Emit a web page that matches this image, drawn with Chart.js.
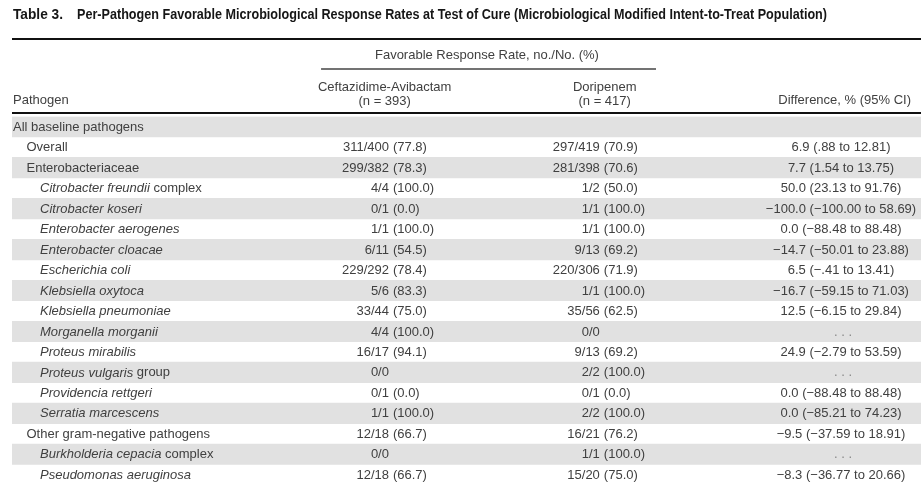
<!DOCTYPE html>
<html lang="en">
<head>
  <meta charset="UTF-8">
  <title>Table 3. Per-Pathogen Favorable Microbiological Response Rates</title>
  <script src="https://cdn.jsdelivr.net/npm/chart.js"></script>
  <style>
    body { margin: 0; background: #fff; }
    .chart-container { width: 924px; height: 485px; }
  </style>
</head>
<body>
  <div class="chart-container">
    <canvas id="tableChart" width="924" height="485"></canvas>
  </div>

  <script>
    // rows of the table
    const rowLabels = [
      'All baseline pathogens', 'Overall', 'Enterobacteriaceae',
      'Citrobacter freundii complex', 'Citrobacter koseri', 'Enterobacter aerogenes',
      'Enterobacter cloacae', 'Escherichia coli', 'Klebsiella oxytoca',
      'Klebsiella pneumoniae', 'Morganella morganii', 'Proteus mirabilis',
      'Proteus vulgaris group', 'Providencia rettgeri', 'Serratia marcescens',
      'Other gram-negative pathogens', 'Burkholderia cepacia complex', 'Pseudomonas aeruginosa'
    ];
    const rowLevel = [0, 1, 1, 2, 2, 2, 2, 2, 2, 2, 2, 2, 2, 2, 2, 1, 2, 2];
    // part of each label set in italics (species names)
    const italicPart = [
      '', '', '',
      'Citrobacter freundii', 'Citrobacter koseri', 'Enterobacter aerogenes',
      'Enterobacter cloacae', 'Escherichia coli', 'Klebsiella oxytoca',
      'Klebsiella pneumoniae', 'Morganella morganii', 'Proteus mirabilis',
      'Proteus vulgaris', 'Providencia rettgeri', 'Serratia marcescens',
      '', 'Burkholderia cepacia', 'Pseudomonas aeruginosa'
    ];

    // Ceftazidime-Avibactam (n = 393)
    const cazResp  = [null, 311, 299, 4, 0, 1, 6, 229, 5, 33, 4, 16, 0, 0, 1, 12, 0, 12];
    const cazTotal = [null, 400, 382, 4, 1, 1, 11, 292, 6, 44, 4, 17, 0, 1, 1, 18, 0, 18];
    const cazPct   = [null, 77.8, 78.3, 100.0, 0.0, 100.0, 54.5, 78.4, 83.3, 75.0, 100.0, 94.1, null, 0.0, 100.0, 66.7, null, 66.7];

    // Doripenem (n = 417)
    const doriResp  = [null, 297, 281, 1, 1, 1, 9, 220, 1, 35, 0, 9, 2, 0, 2, 16, 1, 15];
    const doriTotal = [null, 419, 398, 2, 1, 1, 13, 306, 1, 56, 0, 13, 2, 1, 2, 21, 1, 20];
    const doriPct   = [null, 70.9, 70.6, 50.0, 100.0, 100.0, 69.2, 71.9, 100.0, 62.5, null, 69.2, 100.0, 0.0, 100.0, 76.2, 100.0, 75.0];

    // Difference, % (95% CI)
    const diffPct = [null, 6.9, 7.7, 50.0, -100.0, 0.0, -14.7, 6.5, -16.7, 12.5, null, 24.9, null, 0.0, 0.0, -9.5, null, -8.3];
    const ciLow   = [null, 0.88, 1.54, 23.13, -100.00, -88.48, -50.01, -0.41, -59.15, -6.15, null, -2.79, null, -88.48, -85.21, -37.59, null, -36.77];
    const ciHigh  = [null, 12.81, 13.75, 91.76, 58.69, 88.48, 23.88, 13.41, 71.03, 29.84, null, 53.59, null, 88.48, 74.23, 18.91, null, 20.66];

    const titleLabel = 'Table 3.';
    const titleText = 'Per-Pathogen Favorable Microbiological Response Rates at Test of Cure (Microbiological Modified Intent-to-Treat Population)';

    // column positions in % of table width
    const COL_CAZ = 41.8, COL_DORI = 65.0, COL_DIFF = 91.2;

    const BODY_FONT = '13px "Liberation Sans", Arial, sans-serif';
    const ITALIC_FONT = 'italic 13px "Liberation Sans", Arial, sans-serif';
    const TITLE_FONT = 'bold 14px "Liberation Sans", Arial, sans-serif';
    const TEXT_COLOR = '#404040';

    // numbers like the journal style: minus sign, no leading zero for CI bounds
    function fmt(v, digits) {
      let s = Math.abs(v).toFixed(digits);
      if (digits === 2 && Math.abs(v) < 1) s = s.replace(/^0/, '');
      return (v < 0 ? '\u2212' : '') + s;
    }

    function drawCount(ctx, x, y, n, total, pct) {
      if (n === null) return;
      ctx.textAlign = 'right';
      ctx.fillText(`${n}/${total}`, x - 3, y);
      if (pct !== null) {
        ctx.textAlign = 'left';
        ctx.fillText(`(${pct.toFixed(1)})`, x + 1, y);
      }
    }

    // condensed bold title (no narrow font available, so squeeze it)
    function drawCondensed(ctx, text, x, y, width) {
      const w = ctx.measureText(text).width;
      ctx.save();
      ctx.translate(x, y);
      ctx.scale(width / w, 1);
      ctx.fillText(text, 0, 0);
      ctx.restore();
    }

    const tablePlugin = {
      id: 'tableText',
      afterDatasetsDraw(chart) {
        const { ctx, chartArea, scales } = chart;
        const xs = scales.x, ys = scales.y;
        const top = chartArea.top;
        ctx.save();
        ctx.textBaseline = 'middle';

        // title
        ctx.fillStyle = '#161616';
        ctx.font = TITLE_FONT;
        ctx.textAlign = 'left';
        drawCondensed(ctx, titleLabel, 13, 15, 50);
        drawCondensed(ctx, titleText, 77, 15, 750);

        ctx.fillStyle = TEXT_COLOR;
        ctx.font = BODY_FONT;

        // header rules
        ctx.strokeStyle = '#111';
        ctx.lineWidth = 2;
        ctx.beginPath();
        ctx.moveTo(chartArea.left, top - 77.5); ctx.lineTo(chartArea.right, top - 77.5);
        ctx.moveTo(chartArea.left, top - 3.5);  ctx.lineTo(chartArea.right, top - 3.5);
        ctx.stroke();
        ctx.lineWidth = 1.5;
        ctx.strokeStyle = '#444';
        ctx.beginPath();
        ctx.moveTo(xs.getPixelForValue(34.0), top - 47.5);
        ctx.lineTo(xs.getPixelForValue(70.85), top - 47.5);
        ctx.stroke();

        // header texts
        ctx.textAlign = 'center';
        ctx.fillText('Favorable Response Rate, no./No. (%)', xs.getPixelForValue(52.25), top - 61);
        ctx.fillText('Ceftazidime-Avibactam', xs.getPixelForValue(41.0), top - 29.5);
        ctx.fillText('(n = 393)', xs.getPixelForValue(41.0), top - 15.5);
        ctx.fillText('Doripenem', xs.getPixelForValue(65.2), top - 29.5);
        ctx.fillText('(n = 417)', xs.getPixelForValue(65.2), top - 15.5);
        ctx.textAlign = 'left';
        ctx.fillText('Pathogen', chartArea.left + 1, top - 16);
        ctx.textAlign = 'right';
        ctx.fillText('Difference, % (95% CI)', xs.getPixelForValue(98.9), top - 16);

        // body rows
        rowLabels.forEach((label, i) => {
          const y = ys.getPixelForValue(i) + 0.5;
          const x0 = chartArea.left + 1 + rowLevel[i] * 13.5;
          ctx.textAlign = 'left';
          const it = italicPart[i];
          if (it) {
            ctx.font = ITALIC_FONT;
            ctx.fillText(it, x0, y);
            const w = ctx.measureText(it).width;
            ctx.font = BODY_FONT;
            ctx.fillText(label.slice(it.length), x0 + w, y);
          } else {
            ctx.font = BODY_FONT;
            ctx.fillText(label, x0, y);
          }

          drawCount(ctx, xs.getPixelForValue(COL_CAZ), y, cazResp[i], cazTotal[i], cazPct[i]);
          drawCount(ctx, xs.getPixelForValue(COL_DORI), y, doriResp[i], doriTotal[i], doriPct[i]);

          ctx.textAlign = 'center';
          if (diffPct[i] !== null) {
            ctx.fillText(`${fmt(diffPct[i], 1)} (${fmt(ciLow[i], 2)} to ${fmt(ciHigh[i], 2)})`,
              xs.getPixelForValue(COL_DIFF), y);
          } else if (cazResp[i] !== null) {
            ctx.fillStyle = '#888';
            ctx.fillText('. . .', xs.getPixelForValue(COL_DIFF) + 2, y);
            ctx.fillStyle = TEXT_COLOR;
          }
        });
        ctx.restore();
      }
    };

    const ctx = document.getElementById('tableChart').getContext('2d');
    new Chart(ctx, {
      type: 'bar',
      data: {
        labels: rowLabels,
        datasets: [{
          // alternating row shading
          data: rowLabels.map(() => [0, 100]),
          backgroundColor: rowLabels.map((_, i) => i % 2 === 0 ? '#e1e1e1' : 'rgba(0,0,0,0)'),
          barPercentage: 1,
          categoryPercentage: 1,
          borderWidth: 0
        }]
      },
      options: {
        indexAxis: 'y',
        responsive: false,
        animation: false,
        layout: { padding: { left: 12, right: 3, top: 116.5, bottom: 0 } },
        plugins: {
          legend: { display: false },
          tooltip: { enabled: false },
          title: { display: false }
        },
        scales: {
          x: { type: 'linear', min: 0, max: 100, display: false },
          y: { type: 'category', display: false, offset: true }
        }
      },
      plugins: [tablePlugin]
    });
  </script>
</body>
</html>
